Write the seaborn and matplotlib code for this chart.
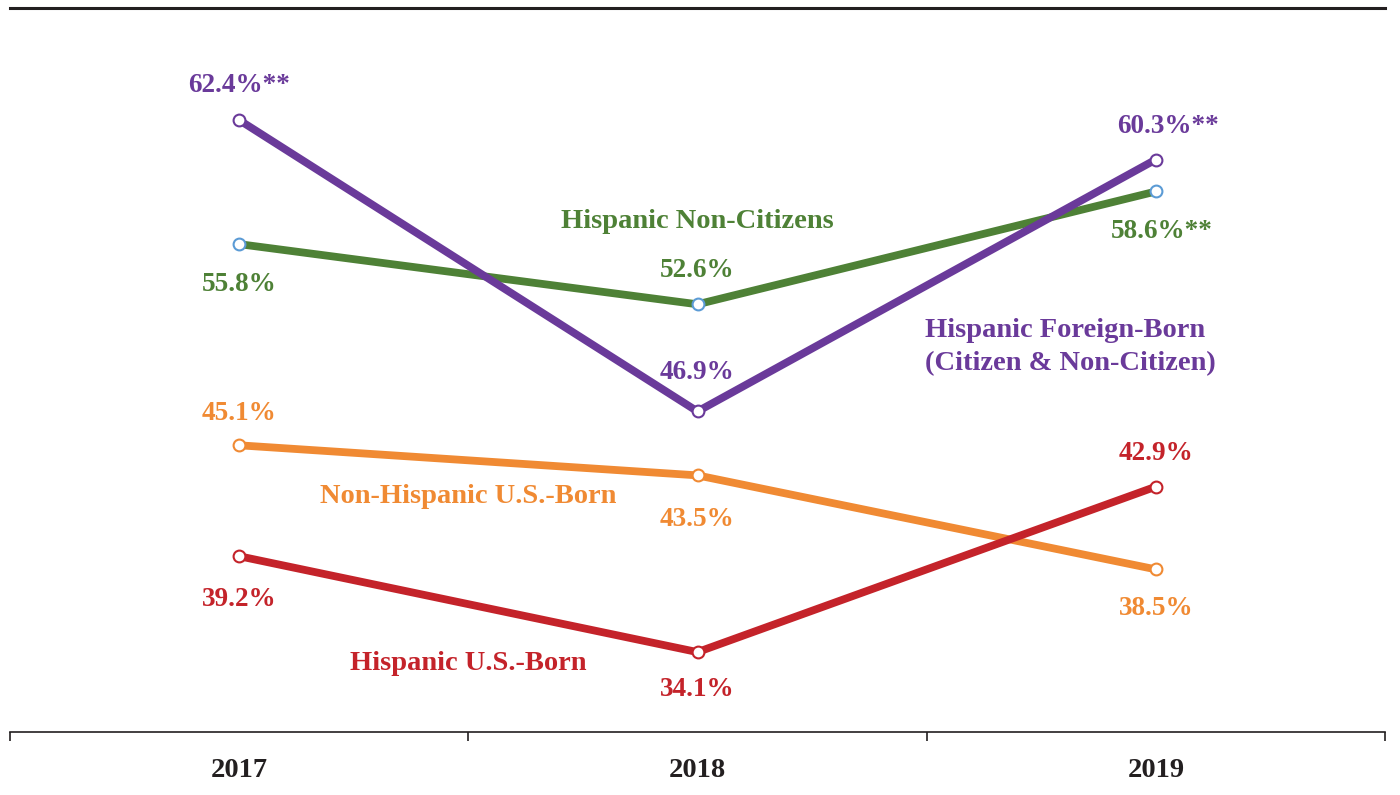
import matplotlib
matplotlib.use("Agg")
import matplotlib.pyplot as plt
import seaborn as sns
import pandas as pd

#%% - data
years = ["2017", "2018", "2019"]
series_names = ["Hispanic Foreign-Born", "Hispanic Non-Citizens",
                "Non-Hispanic U.S.-Born", "Hispanic U.S.-Born"]
foreign_born = [62.4, 46.9, 60.3]
non_citizens = [55.8, 52.6, 58.6]
non_hisp_us_born = [45.1, 43.5, 38.5]
hisp_us_born = [39.2, 34.1, 42.9]
# significance marks appended to some labels
stars_foreign = ["**", "", "**"]
stars_noncit = ["", "", "**"]

sns.set_style("white")
plt.rcParams['font.family'] = ['Liberation Serif', 'DejaVu Serif']

purple = "#6A3A9A"
green = "#4E8136"
orange = "#F08A33"
red = "#C4232A"
blue_edge = "#5B9BD5"

fig = plt.figure(figsize=(14, 7.95), dpi=100)
ax = fig.add_axes([10/1400, 63/795, 1375/1400, 724/795])

values = [foreign_born, non_citizens, non_hisp_us_born, hisp_us_born]
colors = [purple, green, orange, red]
edges = [purple, blue_edge, orange, red]
x = list(range(len(years)))

# draw order: green under purple like the original
for idx in [1, 0, 2, 3]:
    df = pd.DataFrame({"x": x, "v": values[idx]})
    sns.lineplot(data=df, x="x", y="v", color=colors[idx], lw=5.6,
                 marker="o", markersize=8.5, markerfacecolor="white",
                 markeredgecolor=edges[idx], markeredgewidth=1.5, ax=ax,
                 solid_joinstyle="miter", zorder=3)

#%% - point labels (offsets in points)
def lab(i, v, text, color, dy, dx=0):
    ax.annotate(text, (i, v), xytext=(dx, dy), textcoords="offset points",
                ha="center", va="center", color=color, fontsize=19.5,
                fontweight="bold")

foreign_dy = [25, 28, 24]
noncit_dy = [-29, 24, -29]
nh_dy = [23, -32, -28]
hu_dy = [-31, -27, 24]
for i in x:
    lab(i, foreign_born[i], f"{foreign_born[i]}%{stars_foreign[i]}", purple,
        foreign_dy[i], 9 if i == 2 else 0)
    lab(i, non_citizens[i], f"{non_citizens[i]}%{stars_noncit[i]}", green,
        noncit_dy[i], 4 if i == 2 else 0)
    lab(i, non_hisp_us_born[i], f"{non_hisp_us_born[i]}%", orange, nh_dy[i])
    lab(i, hisp_us_born[i], f"{hisp_us_born[i]}%", red, hu_dy[i])

#%% - series labels
kw = dict(fontsize=20.5, fontweight="bold")
ax.text(1.0, 57.03, "Hispanic Non-Citizens", color=green, ha="center", va="center", **kw)
ax.text(1.496, 50.33, "Hispanic Foreign-Born\n(Citizen & Non-Citizen)", color=purple,
        ha="left", va="center", linespacing=1.45, **kw)
ax.text(0.5, 42.4, "Non-Hispanic U.S.-Born", color=orange, ha="center", va="center", **kw)
ax.text(0.5, 33.47, "Hispanic U.S.-Born", color=red, ha="center", va="center", **kw)

#%% - axes styling
ax.set_xlim(-0.5, 2.5)
ax.set_ylim(29.85, 68.36)
ax.set_xticks([-0.5, 0.5, 1.5, 2.5], minor=False)
ax.set_xticklabels([])
ax.set_xticks(x, minor=True)
ax.set_xticklabels(years, minor=True, fontsize=20.5, fontweight="bold", color="#231F20")
ax.tick_params(axis="x", which="major", bottom=True, direction="out", length=6.5,
               width=1.2, color="#231F20")
ax.tick_params(axis="x", which="minor", bottom=True, length=0, pad=19)
ax.set_yticks([])
ax.set_xlabel("")
ax.set_ylabel("")
for s in ["left", "right"]:
    ax.spines[s].set_visible(False)
ax.spines["bottom"].set_color("#231F20")
ax.spines["bottom"].set_linewidth(1.2)
ax.spines["top"].set_color("#231F20")
ax.spines["top"].set_linewidth(2.2)

fig.savefig("out.png", dpi=100)
